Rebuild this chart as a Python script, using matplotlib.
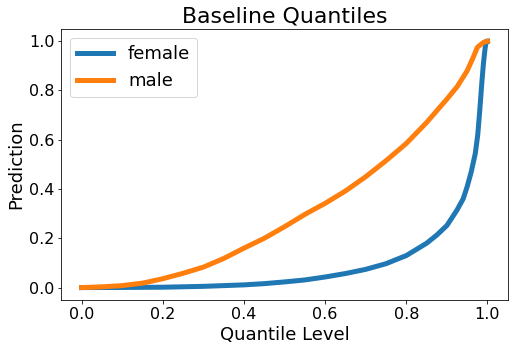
import numpy as np
import matplotlib
matplotlib.use("Agg")
import matplotlib.pyplot as plt

# quantile levels and predictions
q_male = [0.0, 0.05, 0.1, 0.15, 0.2, 0.25, 0.3, 0.35, 0.4, 0.45, 0.5, 0.55, 0.6, 0.65,
          0.7, 0.75, 0.8, 0.85, 0.9, 0.925, 0.95, 0.965, 0.975, 0.99, 1.0]
p_male = [0.0, 0.003, 0.008, 0.018, 0.036, 0.058, 0.083, 0.118, 0.16, 0.2, 0.247, 0.297,
          0.342, 0.392, 0.45, 0.515, 0.585, 0.67, 0.765, 0.815, 0.88, 0.935, 0.975, 0.995, 1.0]

q_female = [0.0, 0.1, 0.2, 0.3, 0.4, 0.45, 0.5, 0.55, 0.6, 0.65, 0.7, 0.75, 0.8, 0.85,
            0.875, 0.9, 0.925, 0.94, 0.95, 0.96, 0.97, 0.976, 0.981, 0.986, 0.99, 0.994,
            0.997, 1.0]
p_female = [0.0, 0.0005, 0.0015, 0.005, 0.011, 0.016, 0.023, 0.031, 0.043, 0.057, 0.074,
            0.097, 0.13, 0.18, 0.213, 0.252, 0.315, 0.36, 0.41, 0.47, 0.545, 0.62, 0.72,
            0.83, 0.91, 0.97, 1.0, 1.0]

plt.rcParams['font.size'] = 16
fig = plt.figure(figsize=(515 / 72, 352 / 72), dpi=72)
ax = fig.add_axes([0.119, 0.148, 0.867, 0.77])
ax.plot(q_female, p_female, color='#1f77b4', linewidth=5, label='female')
ax.plot(q_male, p_male, color='#ff7f0e', linewidth=5, label='male')
ax.set_title("Baseline Quantiles", fontsize=22)
ax.set_xlabel("Quantile Level", fontsize=18)
ax.set_ylabel("Prediction", fontsize=18)
ax.set_xticks([0.0, 0.2, 0.4, 0.6, 0.8, 1.0])
ax.set_yticks([0.0, 0.2, 0.4, 0.6, 0.8, 1.0])
ax.tick_params(labelsize=16)
ax.legend(loc='upper left', fontsize=18)
fig.savefig("out.png", dpi=72)
